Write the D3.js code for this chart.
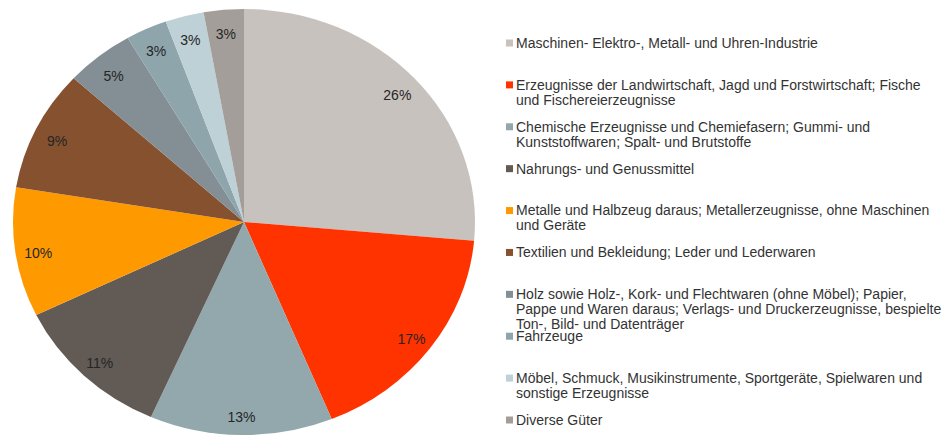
<!DOCTYPE html>
<head>
<meta charset="utf-8">
<script src="https://d3js.org/d3.v7.min.js"></script>
<style>
  body { margin: 0; background: #fff; }
  text { font-family: "Liberation Sans", Arial, sans-serif; }
</style>
</head>
<body>
<script>
// categories (legend text, line breaks as in the original)
const categories = [
  "Maschinen- Elektro-, Metall- und Uhren-Industrie",
  "Erzeugnisse der Landwirtschaft, Jagd und Forstwirtschaft; Fische\nund Fischereierzeugnisse",
  "Chemische Erzeugnisse und Chemiefasern; Gummi- und\nKunststoffwaren; Spalt- und Brutstoffe",
  "Nahrungs- und Genussmittel",
  "Metalle und Halbzeug daraus; Metallerzeugnisse, ohne Maschinen\nund Geräte",
  "Textilien und Bekleidung; Leder und Lederwaren",
  "Holz sowie Holz-, Kork- und Flechtwaren (ohne Möbel); Papier,\nPappe und Waren daraus; Verlags- und Druckerzeugnisse, bespielte\nTon-, Bild- und Datenträger",
  "Fahrzeuge",
  "Möbel, Schmuck, Musikinstrumente, Sportgeräte, Spielwaren und\nsonstige Erzeugnisse",
  "Diverse Güter"
]
// shares in percent
const shares = [26.4, 17.4, 12.8, 11.2, 9.8, 9.2, 4.8, 2.9, 2.7, 2.8]
const colors = ["#c7c2bd", "#ff3300", "#93a8ad", "#625a55", "#ff9900",
                "#85512f", "#838f94", "#8ea5ac", "#bed1d7", "#a39e99"]

let width = 948, height = 437

let svg = d3.select("body").append("svg")
    .attr("width", width)
    .attr("height", height)

// the pie is slightly wider than tall
const cx = 244, cy = 222, rx = 231, ry = 213

let pie = d3.pie().sort(null).value(d => d)
let arcs = pie(shares)

let arc = d3.arc().innerRadius(0).outerRadius(ry)
let labelArc = d3.arc().innerRadius(ry * 0.9).outerRadius(ry * 0.9)

let pieG = svg.append("g")
    .attr("transform", `translate(${cx},${cy}) scale(${rx / ry},1)`)

pieG.selectAll("path")
    .data(arcs)
    .enter().append("path")
    .attr("d", arc)
    .style("fill", (d, i) => colors[i])

let labelG = svg.append("g").attr("transform", `translate(${cx},${cy})`)

labelG.selectAll("text")
    .data(arcs)
    .enter().append("text")
    .attr("x", d => labelArc.centroid(d)[0] * rx / ry)
    .attr("y", d => labelArc.centroid(d)[1] + 3)
    .attr("dy", "0.35em")
    .attr("text-anchor", "middle")
    .style("font-size", "14px")
    .style("fill", "#262626")
    .text(d => Math.round(d.data) + "%")

////////////// Legend //////////////
const legendY = d3.scaleLinear().domain([0, categories.length - 1]).range([43, 420])

let legend = svg.append("g")

let items = legend.selectAll("g")
    .data(categories)
    .enter().append("g")
    .attr("transform", (d, i) => `translate(506,${legendY(i)})`)

items.append("rect")
    .attr("x", 0).attr("y", -3.5)
    .attr("width", 7).attr("height", 7)
    .style("fill", (d, i) => colors[i])

items.append("text")
    .style("font-size", "14px")
    .style("fill", "#333")
    .selectAll("tspan")
    .data(d => d.split("\n"))
    .enter().append("tspan")
    .attr("x", 10)
    .attr("y", (d, i) => i * 15)
    .attr("dy", "0.35em")
    .text(d => d)
</script>
</body>
